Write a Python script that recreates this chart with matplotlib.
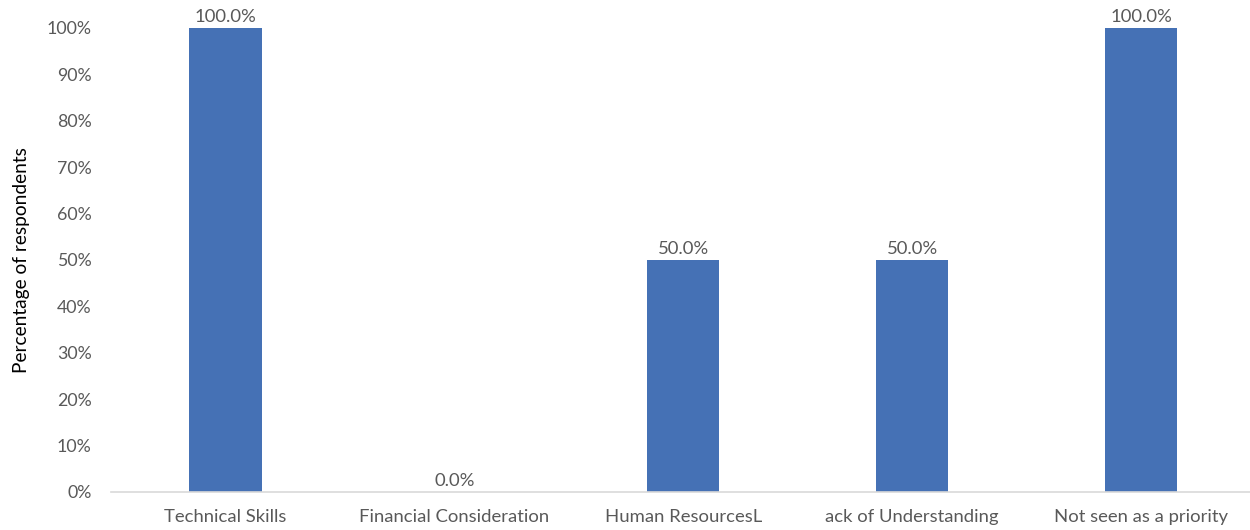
import matplotlib.pyplot as plt
from matplotlib.ticker import PercentFormatter

categories = ["Technical Skills", "Financial Consideration", "Human ResourcesL",
              "ack of Understanding", "Not seen as a priority"]
values = [1.0, 0.0, 0.5, 0.5, 1.0]

plt.rcParams["font.family"] = ["Lato", "DejaVu Sans"]
grey = "#595959"

fig = plt.figure(figsize=(12.5, 5.3), dpi=100)
ax = fig.add_axes([0.0888, 0.0717, 0.9156, 0.8755])

x = range(len(categories))
bars = ax.bar(x, values, width=0.315, color="#4571B5")

for b, v in zip(bars, values):
    ax.annotate(f"{v * 100:.1f}%", (b.get_x() + b.get_width() / 2, v),
                xytext=(0, 2), textcoords="offset points",
                ha="center", va="bottom", fontsize=13.3, color=grey)

ax.set_xlim(-0.5, len(categories) - 0.5)
ax.set_ylim(0, 1)
ax.set_yticks([i / 10 for i in range(11)])
ax.yaxis.set_major_formatter(PercentFormatter(1.0, decimals=0))
ax.set_xticks(list(x))
ax.set_xticklabels(categories)

for s in ["top", "right", "left"]:
    ax.spines[s].set_visible(False)
ax.spines["bottom"].set_color("#d9d9d9")
ax.spines["bottom"].set_linewidth(1.2)

ax.tick_params(axis="y", length=0, pad=14, labelsize=12.8, labelcolor=grey)
ax.tick_params(axis="x", length=0, pad=12, labelsize=13.3, labelcolor=grey)

ax.set_ylabel("Percentage of respondents", fontsize=13.8, color="black", labelpad=12)

fig.savefig("out.png", dpi=100)
